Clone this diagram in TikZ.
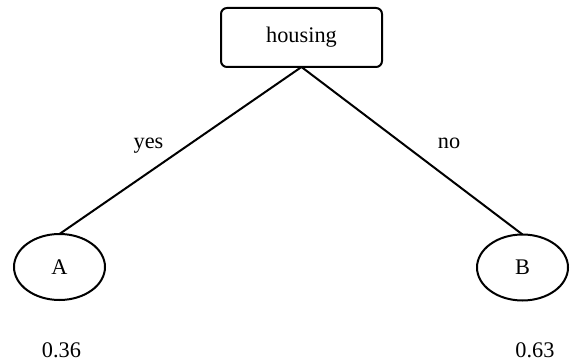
\documentclass[tikz,border=0pt]{standalone}
\usepackage{fontspec}
\setmainfont{Liberation Serif}
\usetikzlibrary{shapes.geometric}

\begin{document}
\begin{tikzpicture}[y=-1pt, x=1pt, inner sep=0pt, outer sep=0pt,
  line width=2pt, font=\fontsize{22.3}{26}\selectfont,
  split/.style={draw, rounded corners=6pt, minimum width=161pt, minimum height=59pt},
  leaf/.style={draw, ellipse, minimum width=91pt, minimum height=66pt},
  lbl/.style={anchor=base}]
\useasboundingbox (0,0) rectangle (570,363);
\node[split] (housing) at (301.5,37.5) {housing};
\node[leaf] (A) at (59.5,267) {A};
\node[leaf] (B) at (522.5,267.5) {B};
\node[lbl] (yes) at (148.5,149) {yes};
\node[lbl] (no) at (449,149) {no};
\node[lbl] (pA) at (61.5,357) {0.36};
\node[lbl] (pB) at (535,357) {0.63};
\draw (housing.south) -- (A.north);
\draw (housing.south) -- (B.north);
\end{tikzpicture}
\end{document}
